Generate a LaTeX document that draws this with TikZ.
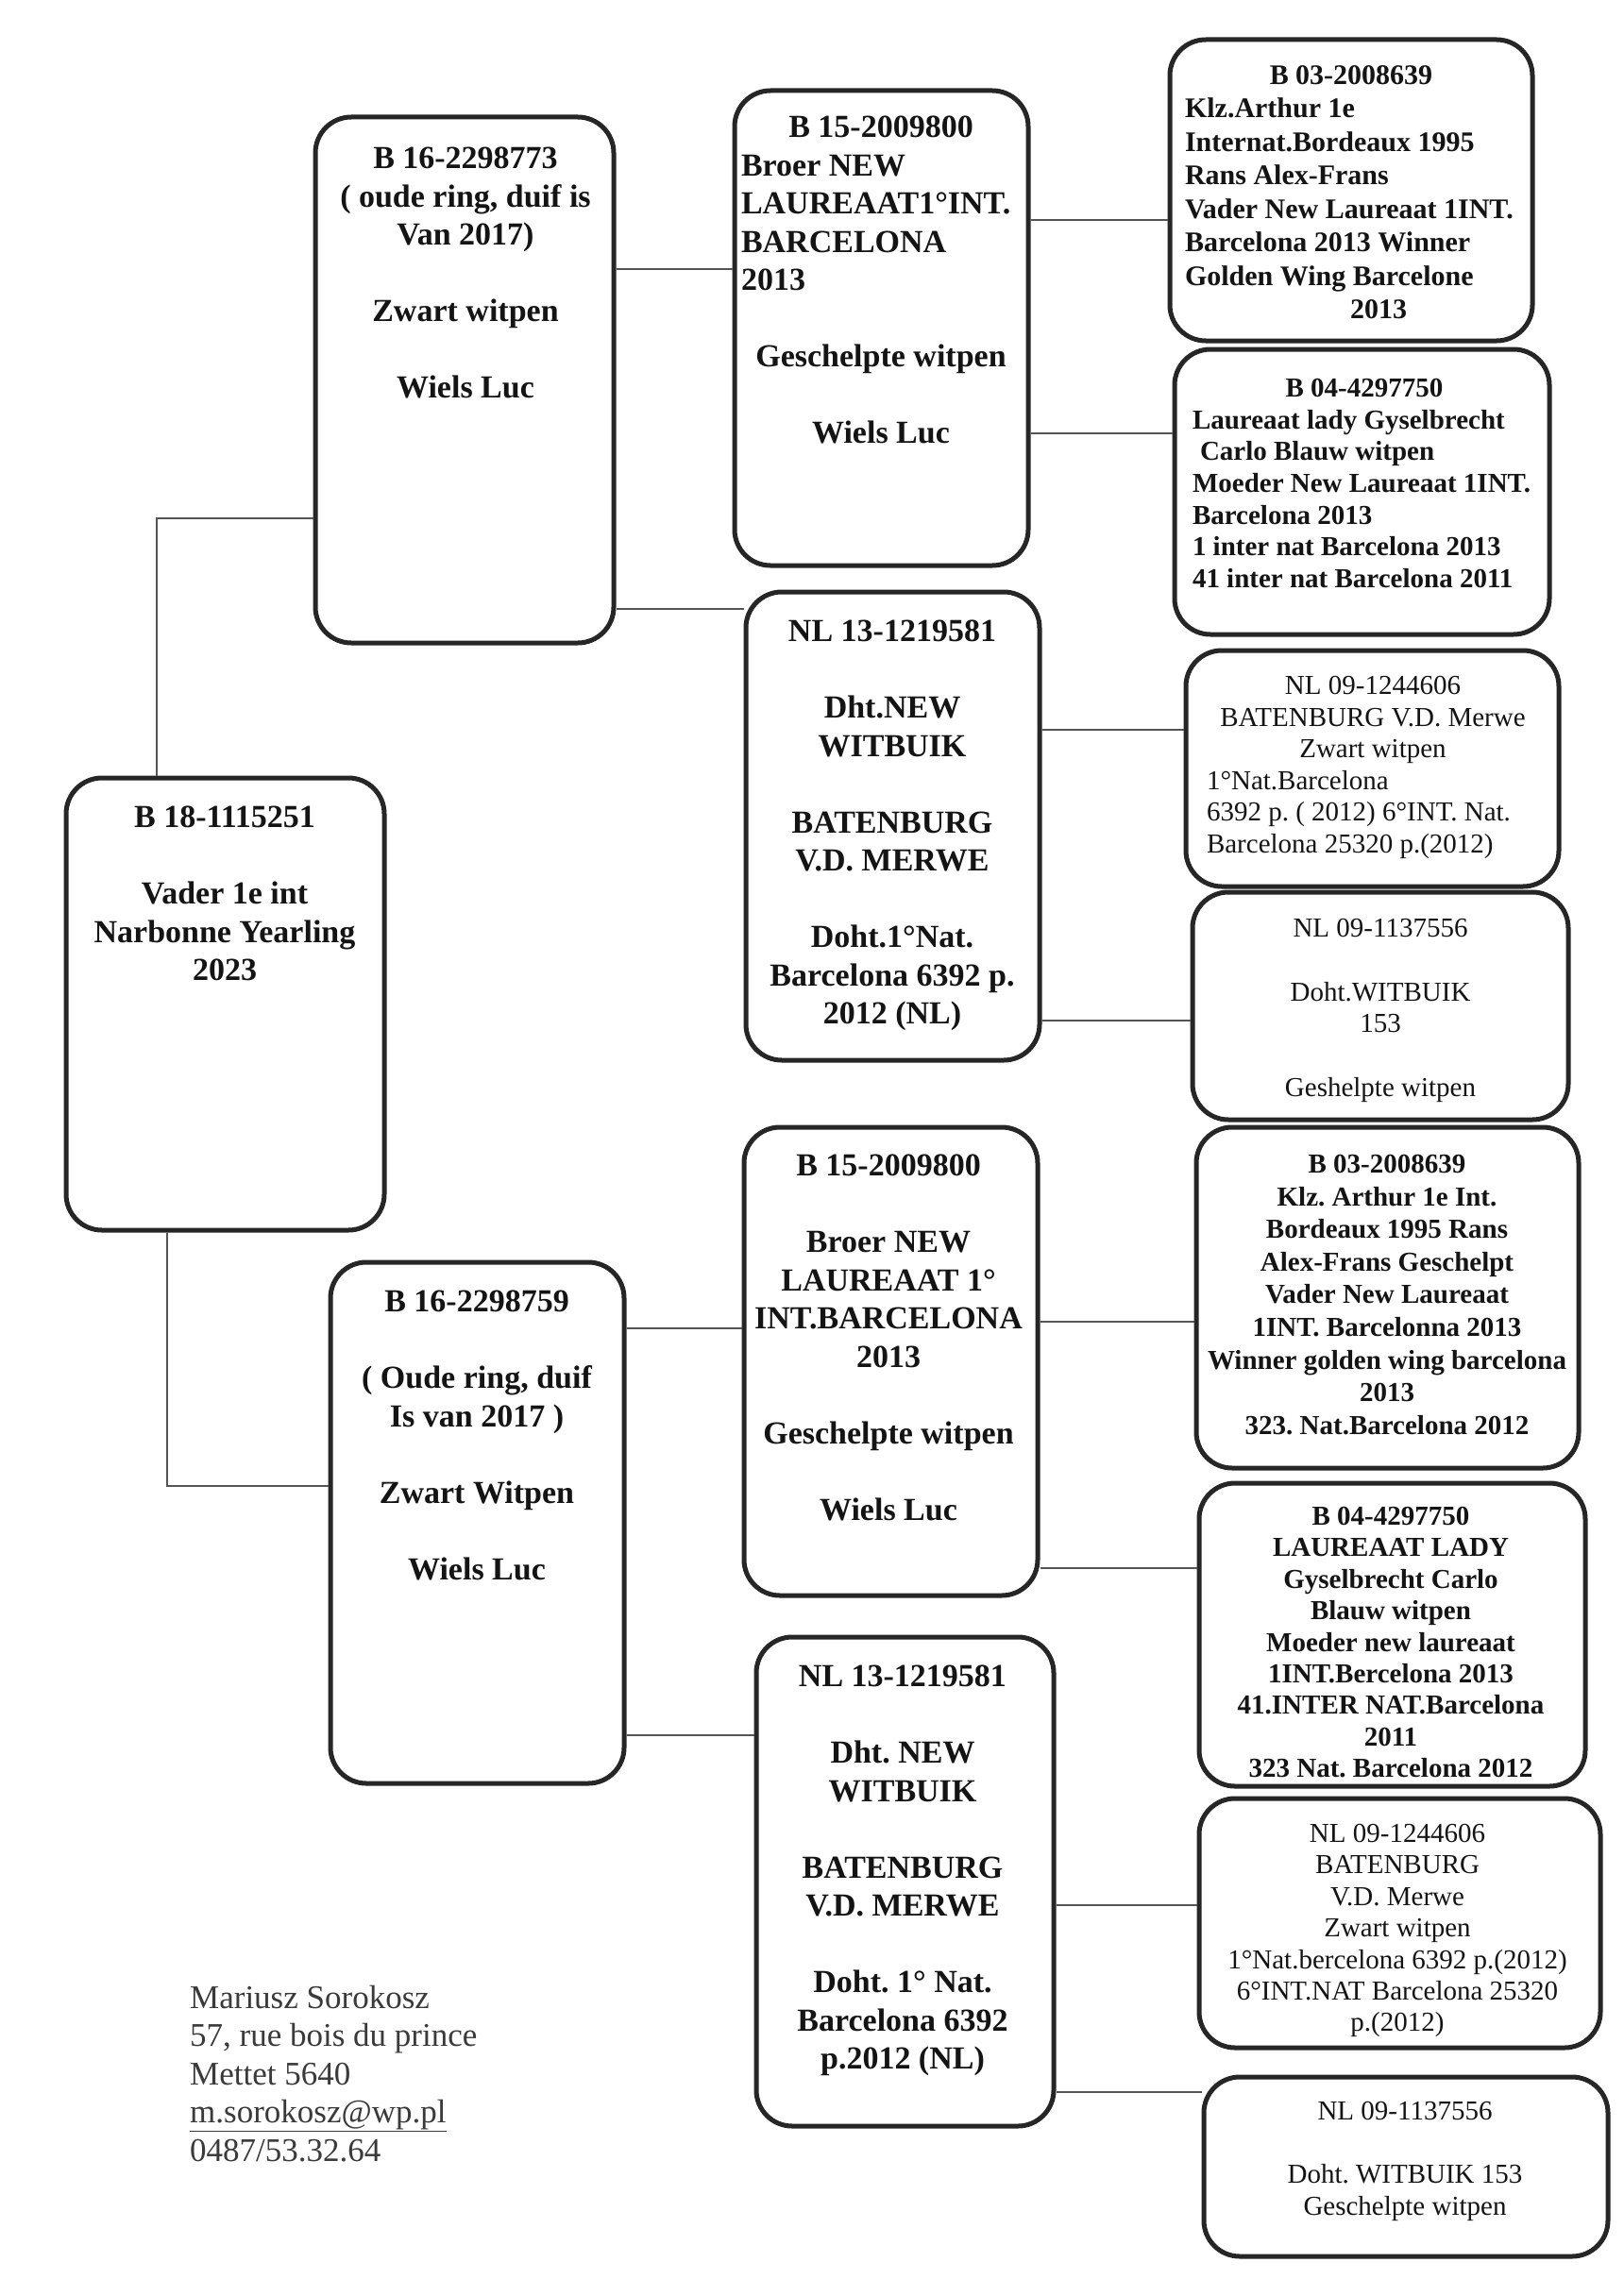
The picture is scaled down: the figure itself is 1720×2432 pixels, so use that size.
\documentclass[tikz,border=0pt]{standalone}
\usepackage{fontspec}
\setmainfont{Liberation Serif}
\frenchspacing
\newcommand\LeftLine[2]{\makebox[#1pt][l]{#2}}
\begin{document}
\frenchspacing
\begin{tikzpicture}[x=1pt,y=-1pt,
  box/.style={draw=boxc,line width=5pt,rounded corners=38pt,inner sep=0pt,
    minimum width=#1},
  link/.style={draw=linec,line width=1.6pt},
  big/.style={font=\bfseries\fontsize{34}{40.5}\selectfont,align=center,inner sep=0pt,anchor=north,text=txt},
  smb/.style={font=\bfseries\fontsize{29}{#1}\selectfont,align=center,inner sep=0pt,anchor=north,text=txt},
  smr/.style={font=\fontsize{29}{#1}\selectfont,align=center,inner sep=0pt,anchor=north,text=txt},
]
\definecolor{boxc}{HTML}{262626}
\definecolor{linec}{HTML}{555555}
\definecolor{txt}{HTML}{141414}
\definecolor{addr}{HTML}{3A3A3A}
\useasboundingbox[fill=white] (0,0) rectangle (1720,2432);

% ---------- boxes ----------
\node[box=337pt,minimum height=479pt] (gp) at (238.5,1063.5) {};
\node[box=316pt,minimum height=557pt] (p1) at (492,402.5) {};
\node[box=311pt,minimum height=552pt] (p2) at (505.5,1613) {};
\node[box=311pt,minimum height=503pt] (gp1) at (933.5,347.5) {};
\node[box=311pt,minimum height=496pt] (gp2) at (945.5,875) {};
\node[box=311pt,minimum height=496pt] (gp3) at (943.5,1442) {};
\node[box=315pt,minimum height=518pt] (gp4) at (958.5,1993) {};
\node[box=384pt,minimum height=319pt] (g1) at (1431,201.5) {};
\node[box=397pt,minimum height=302pt] (g2) at (1442.5,521) {};
\node[box=395pt,minimum height=250pt] (g3) at (1453.5,814) {};
\node[box=398pt,minimum height=241pt] (g4) at (1462,1065.5) {};
\node[box=405pt,minimum height=361pt] (g5) at (1469.5,1374.5) {};
\node[box=409pt,minimum height=321pt] (g6) at (1474.5,1731.5) {};
\node[box=425pt,minimum height=264pt] (g7) at (1482.5,2037) {};
\node[box=428pt,minimum height=190pt] (g8) at (1489,2295) {};

% ---------- connectors ----------
\coordinate (k1) at (166,549);
\coordinate (k2) at (177,1574);
\draw[link] (gp.north -| k1) |- (p1.west |- k1);
\draw[link] (gp.south -| k2) |- (p2.west |- k2);
\draw[link] (p1.east |- 0,285) -- (gp1.west |- 0,285);
\draw[link] (p1.east |- 0,645) -- (gp2.west |- 0,645);
\draw[link] (p2.east |- 0,1407) -- (gp3.west |- 0,1407);
\draw[link] (p2.east |- 0,1838) -- (gp4.west |- 0,1838);
\draw[link] (gp1.east |- 0,233) -- (g1.west |- 0,233);
\draw[link] (gp1.east |- 0,459) -- (g2.west |- 0,459);
\draw[link] (gp2.east |- 0,773) -- (g3.west |- 0,773);
\draw[link] (gp2.east |- 0,1081) -- (g4.west |- 0,1081);
\draw[link] (gp3.east |- 0,1400) -- (g5.west |- 0,1400);
\draw[link] (gp3.east |- 0,1661) -- (g6.west |- 0,1661);
\draw[link] (gp4.east |- 0,2018) -- (g7.west |- 0,2018);
\draw[link] (gp4.east |- 0,2216) -- (g8.west |- 0,2216);

% ---------- texts ----------
\node[big] (gpt) at (238,854) {B 18-1115251\\\mbox{}\\Vader 1e int\\Narbonne Yearling\\2023};
\node[big] (p1t) at (493,156) {B 16-2298773\\( oude ring, duif is\\Van 2017)\\\mbox{}\\Zwart witpen\\\mbox{}\\Wiels Luc};
\node[big] (p2t) at (505,1367) {B 16-2298759\\\mbox{}\\( Oude ring, duif\\Is van 2017 )\\\mbox{}\\Zwart Witpen\\\mbox{}\\Wiels Luc};
\node[big] (gp1t) at (933,123) {B 15-2009800\\\LeftLine{296}{Broer NEW}\\\LeftLine{296}{LAUREAAT1°INT.}\\\LeftLine{296}{BARCELONA}\\\LeftLine{296}{2013}\\\mbox{}\\Geschelpte witpen\\\mbox{}\\Wiels Luc};
\node[big] (gp2t) at (945,657) {NL 13-1219581\\\mbox{}\\Dht.NEW\\WITBUIK\\\mbox{}\\BATENBURG\\V.D. MERWE\\\mbox{}\\Doht.1°Nat.\\Barcelona 6392 p.\\2012 (NL)};
\node[big] (gp3t) at (941,1223) {B 15-2009800\\\mbox{}\\Broer NEW\\LAUREAAT 1°\\INT.BARCELONA\\2013\\\mbox{}\\Geschelpte witpen\\\mbox{}\\Wiels Luc};
\node[big] (gp4t) at (956,1764) {NL 13-1219581\\\mbox{}\\Dht. NEW\\WITBUIK\\\mbox{}\\BATENBURG\\V.D. MERWE\\\mbox{}\\Doht. 1° Nat.\\Barcelona 6392\\p.2012 (NL)};

\node[smb=35.5,font=\bfseries\fontsize{30}{35.5}\selectfont] (g1t) at (1431,69) {B 03-2008639\\\LeftLine{352}{Klz.Arthur 1e}\\\LeftLine{352}{Internat.Bordeaux 1995}\\\LeftLine{352}{Rans Alex-Frans}\\\LeftLine{352}{Vader New Laureaat 1INT.}\\\LeftLine{352}{Barcelona 2013 Winner}\\\LeftLine{352}{Golden Wing Barcelone}\\\hspace*{58pt}2013};
\node[smb=33.7] (g2t) at (1445,401) {B 04-4297750\\\LeftLine{364}{Laureaat lady Gyselbrecht}\\\LeftLine{364}{\hspace*{8pt}Carlo Blauw witpen}\\\LeftLine{364}{Moeder New Laureaat 1INT.}\\\LeftLine{364}{Barcelona 2013}\\\LeftLine{364}{1 inter nat Barcelona 2013}\\\LeftLine{364}{41 inter nat Barcelona 2011}};
\node[smr=33.6] (g3t) at (1454,716) {NL 09-1244606\\BATENBURG V.D. Merwe\\Zwart witpen\\\LeftLine{352}{1°Nat.Barcelona}\\\LeftLine{352}{6392 p. ( 2012) 6°INT. Nat.}\\\LeftLine{352}{Barcelona 25320 p.(2012)}};
\node[smr=33.8] (g4t) at (1462,973) {NL 09-1137556\\\mbox{}\\Doht.WITBUIK\\153\\\mbox{}\\Geshelpte witpen};
\node[smb=34.6] (g5t) at (1469,1223) {B 03-2008639\\Klz. Arthur 1e Int.\\Bordeaux 1995 Rans\\Alex-Frans Geschelpt\\Vader New Laureaat\\1INT. Barcelonna 2013\\Winner golden wing barcelona\\2013\\323. Nat.Barcelona 2012};
\node[smb=33.4] (g6t) at (1473,1596) {B 04-4297750\\LAUREAAT LADY\\Gyselbrecht Carlo\\Blauw witpen\\Moeder new laureaat\\1INT.Bercelona 2013\\41.INTER NAT.Barcelona\\2011\\323 Nat. Barcelona 2012};
\node[smr=33.4] (g7t) at (1480,1932) {NL 09-1244606\\BATENBURG\\V.D. Merwe\\Zwart witpen\\1°Nat.bercelona 6392 p.(2012)\\6°INT.NAT Barcelona 25320\\p.(2012)};
\node[smr=33.7] (g8t) at (1488,2226) {NL 09-1137556\\\mbox{}\\Doht. WITBUIK 153\\Geschelpte witpen};

\node[font=\fontsize{35}{40.4}\selectfont,align=left,inner sep=0pt,anchor=north west,text=addr] (addrt) at (201,2103)
  {Mariusz Sorokosz\\57, rue bois du prince\\Mettet 5640\\\underline{m.sorokosz@wp.pl}\\0487/53.32.64};
\end{tikzpicture}
\end{document}
